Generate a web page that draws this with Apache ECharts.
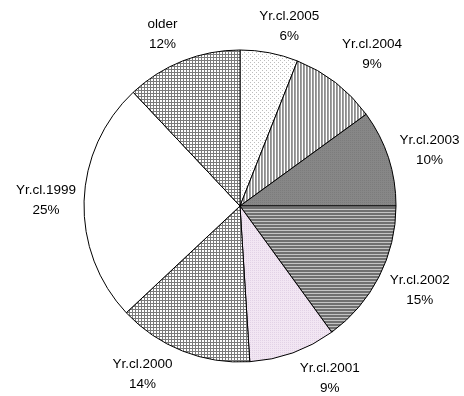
<!DOCTYPE html>
<html><head><meta charset="utf-8">
<script src="https://cdn.jsdelivr.net/npm/echarts@6/dist/echarts.min.js"></script>
<style>html,body{margin:0;padding:0;background:#fff}#c{width:464px;height:396px}</style>
</head><body><div id="c"></div>
<script>
const categories = ['Yr.cl.2005','Yr.cl.2004','Yr.cl.2003','Yr.cl.2002','Yr.cl.2001','Yr.cl.2000','Yr.cl.1999','older'];
const shares = [6, 9, 10, 15, 9, 14, 25, 12];

// label placement nudges (style only, px)
const labelNudgeX = [13, 13, 5, 7, 24, -26, 0, -6];
const labelNudgeY = [11, 2, 4, -4, -10, -12, 0, 9];

function pat(w, h, draw) {
  const c = document.createElement('canvas');
  c.width = w; c.height = h;
  const g = c.getContext('2d');
  draw(g);
  return { image: c, repeat: 'repeat' };
}
function px(g, x, y, col) { g.fillStyle = col; g.fillRect(x, y, 1, 1); }

const fills = [
  pat(4, 4, g => { g.fillStyle = '#fff'; g.fillRect(0,0,4,4); px(g,0,0,'#bdbdbd'); px(g,2,2,'#bdbdbd'); }),
  pat(3, 1, g => { g.fillStyle = '#fff'; g.fillRect(0,0,3,1); px(g,0,0,'#8c8c8c'); px(g,1,0,'#a2a2a2'); }),
  pat(2, 2, g => { g.fillStyle = '#878787'; g.fillRect(0,0,2,2); px(g,0,0,'#7c7c7c'); }),
  pat(1, 3, g => { g.fillStyle = '#707070'; g.fillRect(0,0,1,3); px(g,0,2,'#c4c4c4'); }),
  pat(2, 2, g => { g.fillStyle = '#f2e6f3'; g.fillRect(0,0,2,2); px(g,0,0,'#e2d2e6'); }),
  pat(3, 3, g => { g.fillStyle = '#fff'; g.fillRect(0,0,3,3); g.fillStyle = '#7a7a7a'; g.fillRect(0,0,3,1); g.fillRect(0,0,1,3); }),
  '#ffffff',
  pat(3, 3, g => { g.fillStyle = '#fff'; g.fillRect(0,0,3,3); g.fillStyle = '#7a7a7a'; g.fillRect(0,0,3,1); g.fillRect(0,0,1,3); })
];

const chart = echarts.init(document.getElementById('c'), null, { renderer: 'canvas' });
chart.setOption({
  animation: false,
  backgroundColor: '#fff',
  series: [{
    type: 'pie',
    center: [240, 206],
    radius: 156,
    startAngle: 90,
    clockwise: true,
    avoidLabelOverlap: false,
    data: categories.map((n, i) => ({ name: n, value: shares[i], itemStyle: { color: fills[i] } })),
    itemStyle: { borderColor: '#000', borderWidth: 1 },
    label: {
      show: true, position: 'outside', formatter: '{b}\n{c}%',
      fontFamily: '"Liberation Sans", Arial, sans-serif', fontSize: 13.5, color: '#000',
      lineHeight: 20, distanceToLabelLine: 0
    },
    labelLine: { show: false, length: 38, length2: 0 },
    labelLayout: function (p) {
      return { align: 'center', verticalAlign: 'middle', dx: labelNudgeX[p.dataIndex], dy: labelNudgeY[p.dataIndex] };
    },
    emphasis: { disabled: true }
  }]
});
</script>
</body></html>
